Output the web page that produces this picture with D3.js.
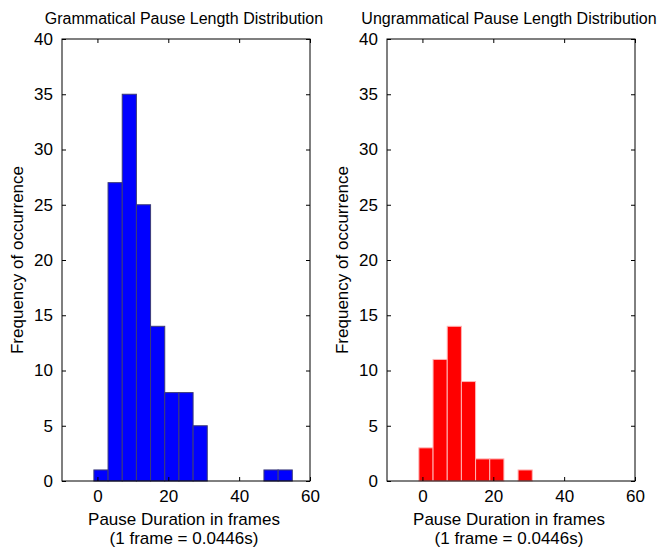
<!DOCTYPE html>
<html>
<head>
<meta charset="utf-8">
<script src="https://cdn.jsdelivr.net/npm/d3@7"></script>
<style>
  body { margin: 0; background: #fff; }
  svg { display: block; font-family: "Liberation Sans", Arial, sans-serif; }
</style>
</head>
<body>
<svg id="chart" width="668" height="548"></svg>
<script>
// histogram bin edges (frames), shared by both panels
const binEdges = [-1, 3, 7, 11, 15, 19, 23, 27, 31, 35, 39, 43, 47, 51, 55];
const grammaticalCounts = [1, 27, 35, 25, 14, 8, 8, 5, 0, 0, 0, 0, 1, 1];
const ungrammaticalCounts = [3, 11, 14, 9, 2, 2, 0, 1, 0, 0, 0, 0, 0, 0];

const xTicks = [0, 20, 40, 60];
const yTicks = [0, 5, 10, 15, 20, 25, 30, 35, 40];
const titles = ["Grammatical Pause Length Distribution", "Ungrammatical Pause Length Distribution"];
const yLabel = "Frequency of occurrence";
const xLabel1 = "Pause Duration in frames";
const xLabel2 = "(1 frame = 0.0446s)";

const svg = d3.select("#chart");

const panels = [
  {left: 62, right: 310, counts: grammaticalCounts, fill: "#0000ff", edge: "#3c3c78", title: titles[0]},
  {left: 387, right: 635, counts: ungrammaticalCounts, fill: "#ff0000", edge: "#ffb4b4", title: titles[1]}
];
const plotTop = 39, plotBottom = 481;
const tickLen = 4;

panels.forEach(p => {
  const x = d3.scaleLinear().domain([-10, 60]).range([p.left, p.right]);
  const y = d3.scaleLinear().domain([0, 40]).range([plotBottom, plotTop]);
  const g = svg.append("g");

  const bins = p.counts.map((c, i) => ({x0: binEdges[i], x1: binEdges[i + 1], n: c}))
    .filter(d => d.n > 0);

  g.selectAll("rect.bar")
    .data(bins)
    .join("rect")
    .attr("class", "bar")
    .attr("x", d => x(d.x0))
    .attr("y", d => y(d.n))
    .attr("width", d => x(d.x1) - x(d.x0))
    .attr("height", d => y(0) - y(d.n))
    .attr("fill", p.fill)
    .attr("stroke", p.edge)
    .attr("stroke-width", 1);

  // axes with inward ticks (bottom/top, left/right)
  const fontSize = 17;
  g.append("g")
    .attr("transform", `translate(0,${plotBottom})`)
    .call(d3.axisBottom(x).tickValues(xTicks).tickSizeInner(-tickLen).tickSizeOuter(0).tickPadding(9))
    .call(a => a.select(".domain").remove())
    .call(a => a.selectAll("text").attr("font-size", fontSize).attr("fill", "#000").attr("font-family", null));
  g.append("g")
    .attr("transform", `translate(0,${plotTop})`)
    .call(d3.axisTop(x).tickValues(xTicks).tickSizeInner(-tickLen).tickSizeOuter(0).tickFormat(""))
    .call(a => a.select(".domain").remove());
  g.append("g")
    .attr("transform", `translate(${p.left},0)`)
    .call(d3.axisLeft(y).tickValues(yTicks).tickSizeInner(-tickLen).tickSizeOuter(0).tickPadding(9))
    .call(a => a.select(".domain").remove())
    .call(a => a.selectAll("text").attr("font-size", fontSize).attr("fill", "#000").attr("font-family", null));
  g.append("g")
    .attr("transform", `translate(${p.right},0)`)
    .call(d3.axisRight(y).tickValues(yTicks).tickSizeInner(-tickLen).tickSizeOuter(0).tickFormat(""))
    .call(a => a.select(".domain").remove());

  g.selectAll(".tick line").attr("stroke", "#000");

  g.append("rect")
    .attr("x", p.left).attr("y", plotTop)
    .attr("width", p.right - p.left).attr("height", plotBottom - plotTop)
    .attr("fill", "none").attr("stroke", "#000").attr("stroke-width", 1);

  const cx = (p.left + p.right) / 2;
  g.append("text")
    .attr("x", cx - 2).attr("y", 24)
    .attr("text-anchor", "middle").attr("font-size", 16)
    .text(p.title);

  g.append("text")
    .attr("x", cx - 2).attr("y", 525)
    .attr("text-anchor", "middle").attr("font-size", 17)
    .text(xLabel1);
  g.append("text")
    .attr("x", cx - 2).attr("y", 544)
    .attr("text-anchor", "middle").attr("font-size", 17)
    .text(xLabel2);

  g.append("text")
    .attr("transform", `translate(${p.left - 39},${(plotTop + plotBottom) / 2}) rotate(-90)`)
    .attr("text-anchor", "middle").attr("font-size", 17)
    .text(yLabel);
});
</script>
</body>
</html>
